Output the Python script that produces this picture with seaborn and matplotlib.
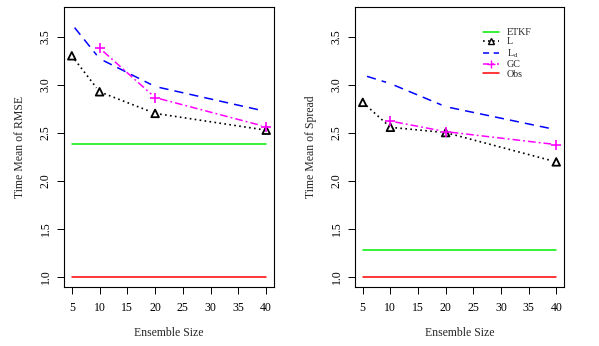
import numpy as np
import pandas as pd
import matplotlib
matplotlib.use('Agg')
import matplotlib.pyplot as plt
import seaborn as sns
from matplotlib.lines import Line2D

sns.set_style("ticks")
plt.rcParams['font.family'] = ['Liberation Serif', 'DejaVu Serif']
plt.rcParams['mathtext.fontset'] = 'custom'
plt.rcParams['mathtext.rm'] = 'Liberation Serif'

# ensemble sizes
ens = [5, 10, 20, 40]
ens_gc = [10, 20, 40]

# time mean RMSE
rmse_etkf = 2.38
rmse_obs = 1.0
rmse_L = [3.30, 2.925, 2.70, 2.525]
rmse_Ld = [3.63, 3.27, 2.98, 2.72]
rmse_GC = [3.38, 2.865, 2.56]

# time mean spread
spr_etkf = 1.28
spr_obs = 1.0
spr_L = [2.815, 2.555, 2.50, 2.195]
spr_Ld = [3.10, 3.01, 2.77, 2.53]
spr_GC = [2.62, 2.51, 2.375]

C_ETKF = "#00ee00"
C_L = "black"
C_LD = "#0000ff"
C_GC = "#ff00ff"
C_OBS = "#ff0000"


def gapped(ax, x, y, gap, **kw):
    # R type="b": line segments stop short of each point
    pts = ax.transData.transform(np.column_stack([x, y]))
    inv = ax.transData.inverted()
    for p0, p1 in zip(pts[:-1], pts[1:]):
        d = p1 - p0
        u = d / np.hypot(*d)
        seg = inv.transform([p0 + u * gap, p1 - u * gap])
        ax.plot(seg[:, 0], seg[:, 1], **kw)


def panel(ax, etkf, obs, L, Ld, GC, ylabel):
    ax.set_xlim(3.6, 41.4)
    ax.set_ylim(0.892, 3.808)
    flat = pd.DataFrame({'x': [min(ens), max(ens)]})
    sns.lineplot(x=flat['x'], y=[etkf, etkf], ax=ax, color=C_ETKF, lw=1.1)
    sns.lineplot(x=flat['x'], y=[obs, obs], ax=ax, color=C_OBS, lw=1.1)
    gapped(ax, ens, Ld, 4.5, color=C_LD, lw=1.1, dashes=(6, 4))
    gapped(ax, ens, L, 5, color=C_L, lw=1.2, dashes=(1, 2))
    gapped(ax, ens_gc, GC, 5, color=C_GC, lw=1.1, dashes=(5, 2, 1.2, 2))
    sns.scatterplot(x=ens, y=L, ax=ax, marker='^', s=30, facecolor='none',
                    edgecolor=C_L, linewidth=1.3, zorder=5)
    ax.plot(ens_gc, GC, ls='none', marker='+', ms=7, mew=1.2, color=C_GC, zorder=5)
    ax.set_xticks([5, 10, 15, 20, 25, 30, 35, 40])
    ax.set_yticks([1.0, 1.5, 2.0, 2.5, 3.0, 3.5])
    ax.set_yticklabels(['1.0', '1.5', '2.0', '2.5', '3.0', '3.5'], rotation=90, va='center')
    ax.tick_params(labelsize=8.5, length=5, width=0.7, pad=5.5, colors='black')
    ax.tick_params(axis='y', pad=4)
    for s in ax.spines.values():
        s.set_visible(True)
        s.set_color('black')
        s.set_linewidth(0.8)
    ax.set_xlabel('Ensemble Size', fontsize=8.5, labelpad=10)
    ax.set_ylabel(ylabel, fontsize=8.5, labelpad=10)


fig = plt.figure(figsize=(5.99, 3.46), dpi=100)
ax1 = fig.add_axes([64 / 599, 1 - 287 / 346, 210 / 599, 280 / 346])
ax2 = fig.add_axes([355 / 599, 1 - 287 / 346, 209 / 599, 280 / 346])

panel(ax1, rmse_etkf, rmse_obs, rmse_L, rmse_Ld, rmse_GC, 'Time Mean of RMSE')
panel(ax2, spr_etkf, spr_obs, spr_L, spr_Ld, spr_GC, 'Time Mean of Spread')

handles = [
    Line2D([], [], color=C_ETKF, lw=1.1),
    Line2D([], [], color=C_L, lw=1.2, dashes=(1, 2), marker='^', mfc='none', ms=5),
    Line2D([], [], color=C_LD, lw=1.1, dashes=(4, 3)),
    Line2D([], [], color=C_GC, lw=1.1, dashes=(4, 2, 1.2, 2), marker='+', ms=6),
    Line2D([], [], color=C_OBS, lw=1.1),
]
labels = ['ETKF', 'L', r'L$_{\mathrm{d}}$', 'GC', 'Obs']
ax2.legend(handles, labels, loc='upper left', bbox_to_anchor=(483 / 599, 1 - 28 / 346),
           bbox_transform=fig.transFigure, frameon=False, fontsize=7.2,
           handlelength=1.6, handletextpad=0.8, labelspacing=0.05,
           borderpad=0, borderaxespad=0)

fig.savefig('out.png', dpi=100)
